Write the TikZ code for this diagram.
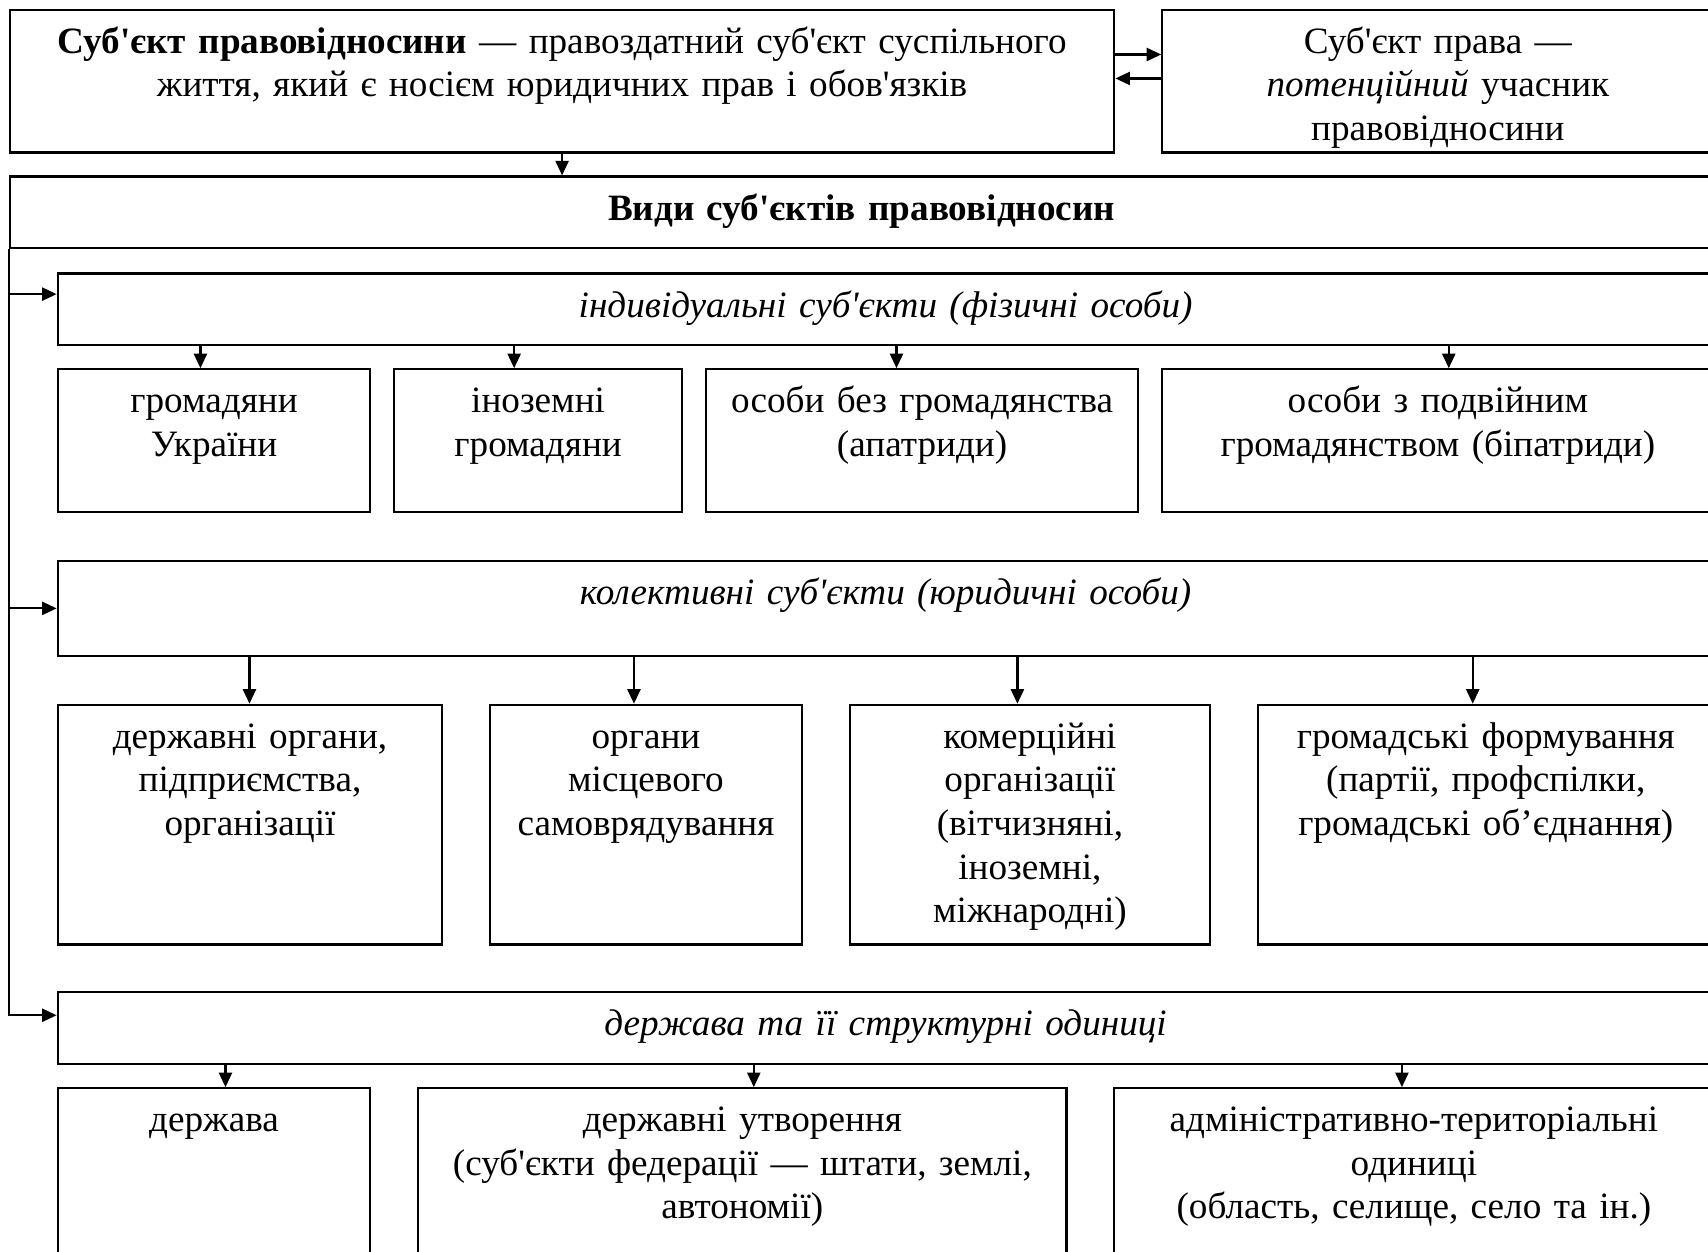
\documentclass[tikz,border=0pt]{standalone}
\usepackage{fontspec}
\newfontfamily\timesf{Liberation Serif}
\usetikzlibrary{arrows.meta}
\newdimen\pxl \pxl=0.375pt
\tikzset{
  cell/.style 2 args={draw, line width=0.75pt, anchor=north west, inner sep=0pt,
    align=center, text width=#1\pxl, text height=40\pxl, text depth=(#2-40)*\pxl},
  arr/.style={line width=0.75pt, -{Triangle[length=5pt,width=4.5pt]}}
}
\begin{document}
\begin{tikzpicture}[x=0.375pt, y=-0.375pt, font=\timesf\fontsize{12.8}{15}\selectfont]
\useasboundingbox (0,0) rectangle (1568,1149);
\clip (0,0) rectangle (1568,1149);

\node[cell={1014}{131}] (subj) at (8,8) {\textbf{Суб'єкт правовідносини} — правоздатний суб'єкт суспільного\\життя, який є носієм юридичних прав і обов'язків};
\node[cell={506}{131}] (subjright) at (1066,8) {Суб'єкт права —\\\textit{потенційний} учасник\\правовідносини};
\node[cell={1564}{66}] (types) at (8,161) {\textbf{Види суб'єктів правовідносин}};

\node[cell={1520}{66}] (indiv) at (52,250) {\textit{індивідуальні суб'єкти (фізичні особи)}};
\node[cell={287}{131}] (citizens) at (52,338) {громадяни\\України};
\node[cell={264}{131}] (foreigners) at (361,338) {іноземні\\громадяни};
\node[cell={397}{131}] (stateless) at (647,338) {особи без громадянства\\(апатриди)};
\node[cell={506}{131}] (bipatrids) at (1066,338) {особи з подвійним\\громадянством (біпатриди)};

\node[cell={1520}{87}] (collective) at (52,514) {\textit{колективні суб'єкти (юридичні особи)}};
\node[cell={353}{220}] (govbodies) at (52,646) {державні органи,\\підприємства,\\організації};
\node[cell={286}{220}] (localgov) at (449,646) {органи\\місцевого\\самоврядування};
\node[cell={331}{220}] (commercial) at (779,646) {комерційні\\організації\\(вітчизняні,\\іноземні,\\міжнародні)};
\node[cell={418}{220}] (publicorg) at (1154,646) {громадські формування\\(партії, профспілки,\\громадські об’єднання)};

\node[cell={1520}{66}] (statehdr) at (52,910) {\textit{держава та її структурні одиниці}};
\node[cell={287}{155}] (state) at (52,998) {держава};
\node[cell={595}{155}] (stateunits) at (383,998) {державні утворення\\(суб'єкти федерації — штати, землі,\\автономії)};
\node[cell={550}{155}] (adminunits) at (1022,998) {адміністративно-територіальні\\одиниці\\(область, селище, село та ін.)};

% links at the top
\draw[arr] (subj.east |- 0,50) -- (subjright.west |- 0,50);
\draw[arr] (subjright.west |- 0,72) -- (subj.east |- 0,72);
\draw[arr] (subj.south) -- (subj.south |- types.north);

% left spine
\draw[arr] (types.south west) |- (statehdr.west |- 0,932);
\draw[arr] (types.west |- 0,270) -- (indiv.west |- 0,270);
\draw[arr] (types.west |- collective.west) -- (collective.west);

% down arrows
\foreach \x/\n in {184/citizens, 472/foreigners, 823/stateless, 1330/bipatrids}
  \draw[arr] (indiv.south -| \x,0) -- (\n.north -| \x,0);
\foreach \x/\n in {229/govbodies, 582/localgov, 934/commercial, 1352/publicorg}
  \draw[arr] (collective.south -| \x,0) -- (\n.north -| \x,0);
\foreach \x/\n in {207/state, 692/stateunits, 1287/adminunits}
  \draw[arr] (statehdr.south -| \x,0) -- (\n.north -| \x,0);
\end{tikzpicture}
\end{document}
